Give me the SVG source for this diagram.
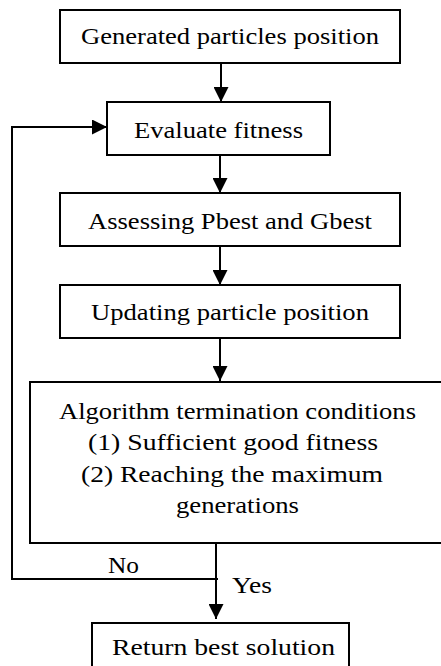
<svg xmlns="http://www.w3.org/2000/svg" width="441" height="666" viewBox="0 0 441 666">
<style>
.box{fill:#fff;stroke:#000;stroke-width:2}
text{font-family:'Liberation Serif','Times New Roman',Times,serif;font-size:24px;fill:#000}
.t{text-anchor:middle}
.c{fill:none;stroke:#000;stroke-width:2}
</style>
<defs>
<marker id="ah" viewBox="0 0 15 15" refX="15" refY="7.5" markerWidth="15" markerHeight="15" markerUnits="userSpaceOnUse" orient="auto">
<path d="M0,0 L15,7.5 L0,15 Z" fill="#000"/>
</marker>
</defs>
<rect width="441" height="666" fill="#fff"/>
<g id="connectors">
<path class="c" d="M221,63 V102" marker-end="url(#ah)"/>
<path class="c" d="M220,155 V193" marker-end="url(#ah)"/>
<path class="c" d="M220,246 V285" marker-end="url(#ah)"/>
<path class="c" d="M220,338 V381" marker-end="url(#ah)"/>
<path class="c" d="M216,543 V619" marker-end="url(#ah)"/>
<path class="c" d="M218,579 H12 V127 H107" marker-end="url(#ah)"/>
<text font-family="Liberation Serif" x="108" y="573" textLength="31" lengthAdjust="spacingAndGlyphs">No</text>
<text font-family="Liberation Serif" x="232" y="593" textLength="40" lengthAdjust="spacingAndGlyphs">Yes</text>
</g>
<g id="n1">
<rect class="box" x="60" y="10" width="340" height="53"/>
<text class="t" font-family="Liberation Serif" x="230" y="44" textLength="298" lengthAdjust="spacingAndGlyphs">Generated particles position</text>
</g>
<g id="n2">
<rect class="box" x="107" y="102" width="223" height="53"/>
<text class="t" font-family="Liberation Serif" x="218.5" y="138" textLength="169" lengthAdjust="spacingAndGlyphs">Evaluate fitness</text>
</g>
<g id="n3">
<rect class="box" x="60" y="193" width="340" height="53"/>
<text class="t" font-family="Liberation Serif" x="230" y="229" textLength="284" lengthAdjust="spacingAndGlyphs">Assessing Pbest and Gbest</text>
</g>
<g id="n4">
<rect class="box" x="60" y="285" width="340" height="53"/>
<text class="t" font-family="Liberation Serif" x="230" y="320" textLength="278" lengthAdjust="spacingAndGlyphs">Updating particle position</text>
</g>
<g id="n5">
<rect class="box" x="30" y="382" width="420" height="161"/>
<text class="t" font-family="Liberation Serif" x="237.5" y="419" textLength="357" lengthAdjust="spacingAndGlyphs">Algorithm termination conditions</text>
<text class="t" font-family="Liberation Serif" x="233" y="450" textLength="290" lengthAdjust="spacingAndGlyphs">(1) Sufficient good fitness</text>
<text class="t" font-family="Liberation Serif" x="232" y="482" textLength="302" lengthAdjust="spacingAndGlyphs">(2) Reaching the maximum</text>
<text class="t" font-family="Liberation Serif" x="237.5" y="513" textLength="123" lengthAdjust="spacingAndGlyphs">generations</text>
</g>
<g id="n6">
<rect class="box" x="92" y="623" width="257" height="60"/>
<text class="t" font-family="Liberation Serif" x="223.5" y="655" textLength="223" lengthAdjust="spacingAndGlyphs">Return best solution</text>
</g>
</svg>
